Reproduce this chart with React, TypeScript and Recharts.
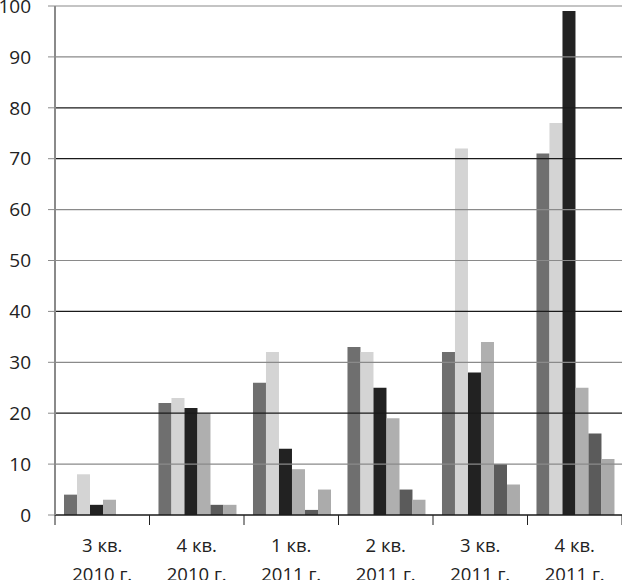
import React from "react";
import { BarChart, Bar, XAxis, YAxis, ReferenceLine } from "recharts";

const quarters = ["3 кв.", "4 кв.", "1 кв.", "2 кв.", "3 кв.", "4 кв."];
const years = ["2010 г.", "2010 г.", "2011 г.", "2011 г.", "2011 г.", "2011 г."];
const series1 = [4, 22, 26, 33, 32, 71];
const series2 = [8, 23, 32, 32, 72, 77];
const series3 = [2, 21, 13, 25, 28, 99];
const series4 = [3, 20, 9, 19, 34, 25];
const series5 = [0, 2, 1, 5, 10, 16];
const series6 = [0, 2, 5, 3, 6, 11];
const yTicks = [0, 10, 20, 30, 40, 50, 60, 70, 80, 90, 100];

const seriesList = [series1, series2, series3, series4, series5, series6];
const seriesColors = ["#6f6f6f", "#d4d4d4", "#222222", "#afafaf", "#5b5b5b", "#ababab"];
const gridColors: Record<number, string> = {
  0: "#1a1a1a", 10: "#8a8a8a", 20: "#1a1a1a", 30: "#8a8a8a", 40: "#1a1a1a",
  50: "#8a8a8a", 60: "#8a8a8a", 70: "#1a1a1a", 80: "#1a1a1a", 90: "#8a8a8a", 100: "#8a8a8a",
};

const data = quarters.map((q, i) => {
  const row: Record<string, any> = { name: String(i), q, y: years[i] };
  seriesList.forEach((s, k) => (row["s" + k] = s[i]));
  return row;
});

const W = 622;
const H = 580;
const LEFT = 55;
const TOP = 6;
const XH = 65;
const band = (W - LEFT) / quarters.length;
const FONT = "'Open Sans', 'DejaVu Sans', sans-serif";

const XTick = (props: any) => {
  const { x, y, payload } = props;
  const i = Number(payload.value);
  const left = x - band / 2;
  const axisY = y - 8;
  return (
    <g>
      <line x1={left} x2={left} y1={axisY} y2={axisY + 10} stroke="#222" strokeWidth={1} />
      {i === quarters.length - 1 && (
        <line x1={left + band} x2={left + band} y1={axisY} y2={axisY + 10} stroke="#222" strokeWidth={1} />
      )}
      <text x={x} y={axisY + 37} textAnchor="middle" fontSize={18.5} fill="#222" fontFamily={FONT}>
        {quarters[i]}
      </text>
      <text x={x} y={axisY + 66} textAnchor="middle" fontSize={18.5} fill="#222" fontFamily={FONT}>
        {years[i]}
      </text>
    </g>
  );
};

export default function App() {
  return (
    <div style={{ position: "absolute", left: 0, top: 0, background: "#fff" }}>
      <BarChart
        width={W}
        height={H}
        data={data}
        margin={{ top: TOP, right: 0, bottom: 0, left: 0 }}
        barCategoryGap="9.5%"
        barGap={0}
      >
        {yTicks.map((t) => (
          <ReferenceLine key={t} y={t} stroke={gridColors[t]} strokeWidth={1.2} ifOverflow="extendDomain" />
        ))}
        <XAxis
          dataKey="name"
          height={XH}
          interval={0}
          tickLine={false}
          axisLine={{ stroke: "#1a1a1a", strokeWidth: 1.2 }}
          tick={<XTick />}
        />
        <YAxis
          width={LEFT}
          domain={[0, 100]}
          ticks={yTicks}
          interval={0}
          tickSize={7}
          tickMargin={17}
          tickLine={{ stroke: "#8a8a8a" }}
          axisLine={{ stroke: "#8a8a8a", strokeWidth: 2 }}
          tick={{ fontSize: 19, fill: "#222", fontFamily: FONT }}
        />
        {seriesList.map((_, k) => (
          <Bar key={k} dataKey={"s" + k} fill={seriesColors[k]} isAnimationActive={false} />
        ))}
      </BarChart>
    </div>
  );
}
